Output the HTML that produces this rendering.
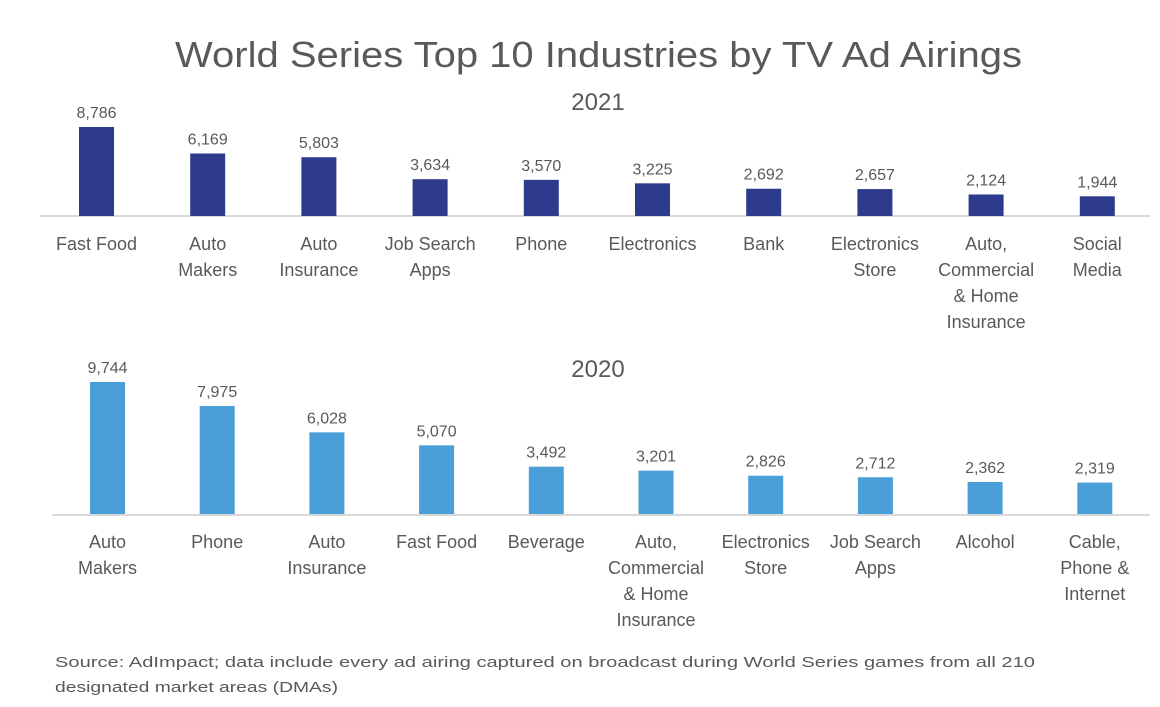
<!DOCTYPE html>
<html><head><meta charset="utf-8"><style>
body{margin:0;background:#fff;width:1160px;height:702px;overflow:hidden;font-family:"Liberation Sans",sans-serif;}
svg text{font-family:"Liberation Sans",sans-serif;fill:#595959;}
</style></head><body>
<svg id="c" width="1160" height="702">
<text x="175" y="67" font-size="36" textLength="847" lengthAdjust="spacingAndGlyphs">World Series Top 10 Industries by TV Ad Airings</text>
<text x="598" y="110" font-size="24" text-anchor="middle">2021</text>
<text x="598" y="377" font-size="24" text-anchor="middle">2020</text>
<line x1="40" y1="216" x2="1150" y2="216" stroke="#d9d9d9" stroke-width="2"/>
<line x1="52" y1="515" x2="1150" y2="515" stroke="#d9d9d9" stroke-width="2"/>
<text x="55" y="667" font-size="15" textLength="980" lengthAdjust="spacingAndGlyphs">Source: AdImpact; data include every ad airing captured on broadcast during World Series games from all 210</text>
<text x="55" y="692" font-size="15" textLength="283" lengthAdjust="spacingAndGlyphs">designated market areas (DMAs)</text>
<g id="g1"></g><g id="g2"></g>
</svg>
<script>
const cats2021=[["Fast Food"],["Auto","Makers"],["Auto","Insurance"],["Job Search","Apps"],["Phone"],["Electronics"],["Bank"],["Electronics","Store"],["Auto,","Commercial","& Home","Insurance"],["Social","Media"]];
const vals2021=[8786,6169,5803,3634,3570,3225,2692,2657,2124,1944];
const cats2020=[["Auto","Makers"],["Phone"],["Auto","Insurance"],["Fast Food"],["Beverage"],["Auto,","Commercial","& Home","Insurance"],["Electronics","Store"],["Job Search","Apps"],["Alcohol"],["Cable,","Phone &","Internet"]];
const vals2020=[9744,7975,6028,5070,3492,3201,2826,2712,2362,2319];
const NS="http://www.w3.org/2000/svg";
function draw(gid,cats,vals,x0,step,base,scale,color,yr){
  const g=document.getElementById(gid);
  const x=i=>x0+i*step;
  const y=v=>base-v*scale;
  vals.forEach((v,i)=>{
    const r=document.createElementNS(NS,'rect');
    r.setAttribute('x',x(i)-17.5);r.setAttribute('y',y(v));
    r.setAttribute('width',35);r.setAttribute('height',base-y(v));
    r.setAttribute('fill',color);
    
    
    g.appendChild(r);
    const t=document.createElementNS(NS,'text');
    t.setAttribute('x',x(i));t.setAttribute('y',y(v)-9);
    t.setAttribute('font-size','16');t.setAttribute('text-anchor','middle');
    t.textContent=v.toLocaleString('en-US');
    
    
    g.appendChild(t);
    cats[i].forEach((line,j)=>{
      const c=document.createElementNS(NS,'text');
      c.setAttribute('x',x(i));c.setAttribute('y',base+34+j*26);
      c.setAttribute('font-size','18');c.setAttribute('text-anchor','middle');
      c.textContent=line;
      
      
      g.appendChild(c);
    });
  });
}
draw('g1',cats2021,vals2021,96.5,111.2,216,89/8786,'#2e3a8c','2021');
draw('g2',cats2020,vals2020,107.5,109.7,514,132/9744,'#4a9fd8','2020');
</script>
</body></html>
